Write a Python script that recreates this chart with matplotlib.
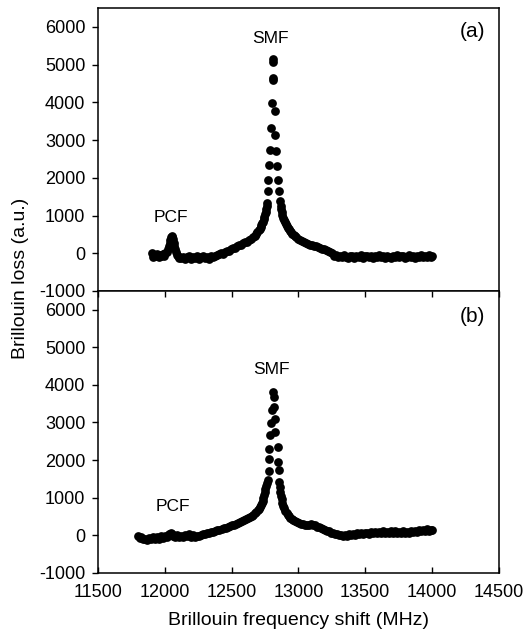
import matplotlib
matplotlib.use("Agg")
import matplotlib.pyplot as plt

plt.rcParams['font.family'] = ['Liberation Sans', 'DejaVu Sans']
plt.rcParams['axes.unicode_minus'] = False

# (a) Brillouin loss spectrum
a_freq = [11905, 11915, 11925, 11935, 11945, 11955, 11965, 11975, 11985, 11995,
          12005, 12015, 12022, 12030, 12036, 12042, 12047, 12052, 12057, 12062,
          12067, 12072, 12078, 12085, 12092, 12100, 12110,
          12120, 12135, 12150, 12165, 12180, 12195, 12210, 12225, 12240, 12255,
          12270, 12285, 12300, 12315, 12330, 12345, 12360, 12375, 12390, 12405,
          12420, 12435, 12450, 12465, 12480, 12495, 12510, 12525, 12540, 12555,
          12570, 12585, 12600, 12615, 12630, 12645, 12660, 12672, 12684, 12694,
          12703, 12711, 12718, 12724, 12730, 12735, 12740, 12745, 12750, 12755,
          12760, 12764, 12768, 12775, 12776, 12783, 12788, 12795, 12800, 12808,
          12808, 12812, 12813, 12825, 12825, 12833, 12838, 12850, 12855, 12863,
          12868, 12872, 12876, 12881, 12886, 12892, 12898, 12905, 12912, 12920,
          12928, 12936, 12945, 12955, 12965, 12975, 12985, 13000, 13015, 13030,
          13045, 13060, 13075, 13090, 13105, 13120, 13135, 13150, 13165, 13180,
          13195, 13210, 13225, 13240, 13255, 13270, 13285, 13300,
          13315, 13330, 13345, 13360, 13375, 13390, 13405, 13420, 13435, 13450,
          13465, 13480, 13495, 13510, 13525, 13540, 13555, 13570, 13585, 13600,
          13615, 13630, 13645, 13660, 13675, 13690, 13705, 13720, 13735, 13750,
          13765, 13780, 13795, 13810, 13825, 13840, 13855, 13870, 13885, 13900,
          13915, 13930, 13945, 13960, 13975, 13990, 14000]
a_loss = [10, -90, -40, -80, -30, -90, -50, -70, -20, -60,
          0, 40, 100, 180, 270, 360, 420, 450, 430, 370,
          280, 190, 100, 20, -40, -80, -120,
          -130, -90, -150, -110, -70, -140, -100, -130, -80, -150,
          -110, -70, -130, -100, -140, -80, -110, -60, -50, -20,
          10, -10, 40, 60, 50, 100, 130, 150, 180, 210,
          230, 260, 290, 310, 350, 390, 430, 470, 510, 560,
          610, 650, 700, 740, 790, 840, 900, 960, 1030, 1100,
          1180, 1260, 1333, 1661, 1947, 2347, 2747, 3325, 3990, 4580,
          4650, 5080, 5150, 3770, 3147, 2700, 2320, 1947, 1661, 1380,
          1260, 1170, 1090, 1010, 940, 880, 830, 770, 720, 670,
          630, 590, 560, 520, 480, 450, 420, 380, 350, 320,
          290, 270, 250, 230, 210, 200, 180, 170, 150, 120,
          100, 80, 60, 40, 10, -60, -40, -90,
          -60, -110, -50, -90, -120, -60, -80, -130, -70, -100,
          -50, -120, -80, -60, -110, -70, -130, -60, -90, -50,
          -110, -80, -120, -60, -90, -130, -70, -100, -50, -110,
          -80, -60, -120, -90, -50, -100, -70, -130, -60, -90,
          -40, -110, -70, -100, -50, -110, -80]

# (b)
b_freq = [11800, 11812, 11825, 11837, 11850, 11865, 11880, 11895, 11910, 11925,
          11940, 11955, 11970, 11985, 12000, 12015, 12030, 12045, 12055, 12065,
          12080, 12095, 12110, 12125, 12140, 12155, 12170, 12185, 12200, 12215,
          12230, 12245, 12260, 12275, 12290, 12305, 12320, 12335, 12350, 12365,
          12380, 12395, 12410, 12425, 12440, 12455, 12470, 12485, 12500, 12515,
          12530, 12545, 12560, 12575, 12590, 12605, 12620, 12635, 12650, 12663,
          12675, 12686, 12696, 12705, 12713, 12720, 12727, 12733, 12739, 12744,
          12749, 12754, 12759, 12764, 12770, 12778, 12783, 12783, 12787, 12795,
          12802, 12813, 12815, 12820, 12828, 12828, 12845, 12845, 12852, 12857,
          12861, 12865, 12870, 12875, 12881, 12888, 12895, 12903, 12912, 12921,
          12930, 12940, 12950, 12962, 12975, 12990, 13005, 13020, 13035, 13050,
          13065, 13080, 13095, 13110, 13125, 13140, 13155, 13170, 13185, 13200,
          13215, 13230, 13245, 13260, 13275, 13290, 13305, 13320, 13335, 13350,
          13365, 13380, 13395, 13410, 13425, 13440, 13455, 13470, 13485, 13500,
          13515, 13530, 13545, 13560, 13575, 13590, 13605, 13620, 13635, 13650,
          13665, 13680, 13695, 13710, 13725, 13740, 13755, 13770, 13785, 13800,
          13815, 13830, 13845, 13860, 13875, 13890, 13905, 13920, 13935, 13950,
          13965, 13980, 13995, 14000]
b_loss = [-20, -80, -60, -110, -90, -130, -80, -110, -60, -100,
          -50, -90, -30, -70, -20, -50, 20, 60, 40, -10,
          -40, 10, -50, -20, -60, 10, -30, 20, -40, 0,
          -50, -10, -30, 10, 30, 20, 60, 50, 90, 80,
          120, 130, 150, 170, 190, 200, 230, 240, 260, 280,
          300, 320, 350, 370, 400, 420, 450, 480, 510, 540,
          580, 620, 660, 700, 750, 800, 860, 920, 990, 1060,
          1140, 1220, 1300, 1380, 1460, 1707, 2036, 2302, 2655, 2982,
          3337, 3823, 3690, 3406, 3098, 2742, 2344, 1946, 1744, 1415,
          1280, 1160, 1050, 950, 860, 780, 710, 650, 590, 540,
          500, 460, 430, 400, 370, 340, 320, 300, 290, 280,
          270, 280, 290, 280, 260, 230, 210, 190, 170, 150,
          120, 100, 70, 50, 20, 30, 0, 10, -30, 10,
          -10, 30, 0, 40, 10, 50, 20, 60, 30, 50,
          70, 40, 80, 50, 90, 60, 80, 50, 100, 70,
          90, 60, 100, 70, 110, 60, 90, 70, 100, 60,
          90, 70, 110, 80, 120, 90, 140, 110, 150, 120,
          160, 120, 150, 130]

panels = [(a_freq, a_loss, '(a)', (12793, 5680), (12045, 960), 5890),
          (b_freq, b_loss, '(b)', (12800, 4400), (12060, 750), 5810)]
yticks = [-1000, 0, 1000, 2000, 3000, 4000, 5000, 6000]
xticks = [11500, 12000, 12500, 13000, 13500, 14000, 14500]

fig = plt.figure(figsize=(5.29, 6.37), dpi=100)
ax1 = fig.add_axes([0.185, 0.5432, 0.758, 0.4442])
ax2 = fig.add_axes([0.185, 0.1009, 0.758, 0.4423])

for ax, (fx, fy, tag, smf_xy, pcf_xy, tag_y) in zip([ax1, ax2], panels):
    ax.plot(fx, fy, 'o', color='black', markersize=6.3, markeredgewidth=0)
    ax.set_xlim(11500, 14500)
    ax.set_ylim(-1000, 6500)
    ax.set_yticks(yticks)
    ax.set_xticks(xticks)
    ax.tick_params(axis='y', direction='out', length=4, width=1.0, labelsize=13, pad=5)
    for s in ax.spines.values():
        s.set_linewidth(1.1)
    ax.text(smf_xy[0], smf_xy[1], 'SMF', fontsize=12.5, ha='center', va='center')
    ax.text(pcf_xy[0], pcf_xy[1], 'PCF', fontsize=12.5, ha='center', va='center')
    ax.text(14305, tag_y, tag, fontsize=15, ha='center', va='center')

ax1.tick_params(axis='x', bottom=False, labelbottom=False)
ax2.tick_params(axis='x', direction='in', top=True, bottom=True, length=4, width=1.0,
                labelsize=13, pad=8)

ax2.set_xlabel('Brillouin frequency shift (MHz)', fontsize=14, labelpad=8)
fig.text(0.038, 1 - 278 / 637, 'Brillouin loss (a.u.)', rotation=90,
         fontsize=14, ha='center', va='center')

plt.savefig('out.png', dpi=100)
